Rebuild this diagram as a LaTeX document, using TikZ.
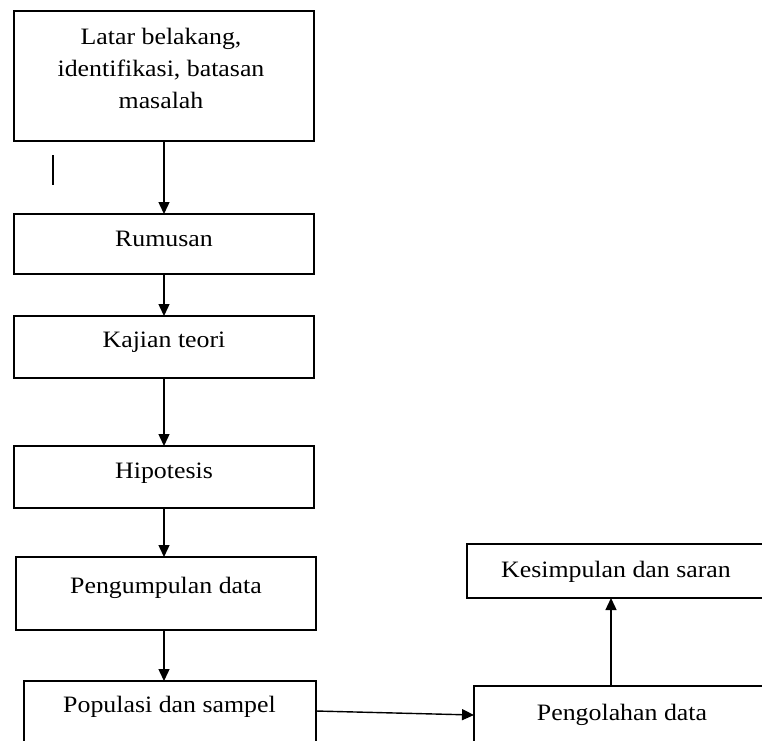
\documentclass[tikz,border=0pt]{standalone}
\usepackage{graphicx}
\usepackage{fontspec}
\setmainfont{Liberation Serif}
\usetikzlibrary{arrows.meta}
\newcommand\hsc[1]{\scalebox{1.1}[1]{#1}}
\tikzset{
  box/.style={draw, line width=1.6pt, minimum width=300pt, inner sep=0pt, outer sep=0pt},
  txt/.style={inner sep=0pt, font=\fontsize{23.5}{32}\selectfont, anchor=base},
  arr/.style={line width=1.4pt, -{Triangle[length=12pt,width=11pt]}}
}
\begin{document}
\begin{tikzpicture}[x=1pt,y=-1pt]
\clip (0,0) rectangle (762,740);
\fill[white] (0,0) rectangle (762,740);
% boxes
\node[box, minimum height=130pt] (b1) at (164,76) {};
\node[box, minimum height=60pt] (b2) at (164,244) {};
\node[box, minimum height=62pt] (b3) at (164,347) {};
\node[box, minimum height=62pt] (b4) at (164,477) {};
\node[box, minimum height=73pt] (b5) at (166,593.5) {};
\node[box, minimum width=292pt, minimum height=80pt] (b6) at (170,721) {};
\node[box, minimum width=310pt, minimum height=54pt] (ks) at (622,571) {};
\node[box, minimum width=300pt, minimum height=80pt] (pg) at (624,726) {};
% texts
\node[txt, anchor=north, align=center] (t1) at (161,27.5) {\hsc{Latar belakang,}\\\hsc{identifikasi, batasan}\\\hsc{masalah}};
\node[txt] (t2) at (164,246) {\hsc{Rumusan}};
\node[txt] (t3) at (164,347.5) {\hsc{Kajian teori}};
\node[txt] (t4) at (164,478) {\hsc{Hipotesis}};
\node[txt] (t5) at (166,593) {\hsc{Pengumpulan data}};
\node[txt] (t6) at (169.5,712) {\hsc{Populasi dan sampel}};
\node[txt] (t7) at (616,577) {\hsc{Kesimpulan dan saran}};
\node[txt] (t8) at (622,720) {\hsc{Pengolahan data}};
% stray mark
\draw[line width=1.4pt] (53,155) -- (53,185);
% connectors
\coordinate (p6) at (316,711);
\coordinate (p8) at (474,715);
\draw[arr] (b1.south) -- (b2.north);
\draw[arr] (b2.south) -- (b3.north);
\draw[arr] (b3.south) -- (b4.north);
\draw[arr] (b4.south) -- (b4.south |- b5.north);
\draw[arr] (b4.south |- b5.south) -- (b4.south |- b6.north);
\draw[arr] (p6) -- (p8);
\draw[arr] ([xshift=-13pt]pg.north) -- ([xshift=-13pt]pg.north |- ks.south);
\end{tikzpicture}
\end{document}
